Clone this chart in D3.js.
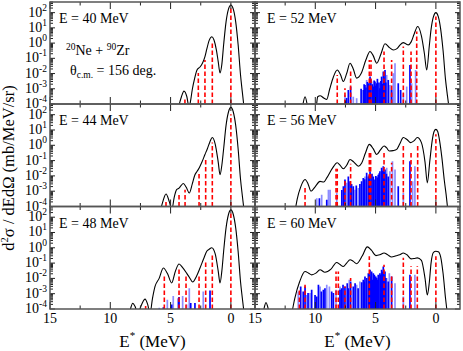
<!DOCTYPE html>
<html>
<head>
<meta charset="utf-8">
<script src="https://cdn.jsdelivr.net/npm/d3@7"></script>
<style>
body { margin: 0; background: #fff; }
svg { display: block; }
text { font-family: 'Liberation Serif', 'DejaVu Serif', serif; }
</style>
</head>
<body>
<svg id="chart" width="463" height="351" font-family="Liberation Serif, DejaVu Serif, serif"></svg>
<script>
// ---- data: [E* (MeV), d2sigma/dEdOmega (mb/MeV/sr)] ----
var beamEnergies = [40, 44, 48, 52, 56, 60];

var curve40 = [[-1.1,5e-5],[-0.95,6e-4],[-0.8,8e-3],[-0.6,0.8],[-0.4,25],[-0.2,170],[0,320],[0.2,170],[0.4,25],[0.6,0.8],[0.75,0.04],[0.9,0.011],[1.05,0.06],[1.2,0.35],[1.4,1.6],[1.57,2.6],[1.8,1.5],[2.0,0.4],[2.15,0.13],[2.35,0.05],[2.56,0.027],[2.81,0.017],[3.0,5e-3],[3.2,9e-4],[3.35,1.5e-4],[3.47,6e-5],[3.65,3e-4],[3.89,7e-4],[4.1,3e-4],[4.3,8e-5],[4.5,1e-5]];
var red40 = [[3.81,2.9e-4],[2.7,1.1e-2],[2.15,7.9e-2],[1.54,1.2],[0,240]];

var curve44 = [[-1.1,5e-5],[-0.95,5e-4],[-0.8,6e-3],[-0.6,0.6],[-0.4,20],[-0.2,150],[0,300],[0.2,150],[0.4,20],[0.6,0.6],[0.75,0.05],[0.9,0.012],[1.05,0.08],[1.3,1.2],[1.54,3.2],[1.75,1.6],[1.95,0.6],[2.15,0.25],[2.4,0.08],[2.62,0.034],[2.8,0.02],[2.98,0.012],[3.2,3e-3],[3.45,7.6e-4],[3.7,1.8e-3],[3.95,3.2e-3],[4.15,2.2e-3],[4.3,1.6e-3],[4.5,1.26e-3],[4.7,4e-4],[4.9,6e-5],[5.1,2e-4],[5.38,6.6e-4],[5.65,2e-4],[5.88,4e-5]];
var red44 = [[5.38,2.8e-4],[4.3,6.9e-4],[3.8,1.26e-3],[2.64,1.7e-2],[2.09,0.15],[1.54,1.5],[0,107]];

var curve48 = [[-1.1,5e-5],[-0.95,5e-4],[-0.8,6e-3],[-0.6,0.6],[-0.4,20],[-0.2,150],[0,300],[0.2,150],[0.4,20],[0.6,0.6],[0.75,0.03],[0.9,5e-3],[1.05,0.03],[1.3,0.4],[1.59,1.0],[1.8,0.8],[2.0,0.6],[2.25,0.2],[2.56,0.048],[2.85,0.014],[3.17,5.8e-3],[3.45,0.012],[3.67,0.022],[4.0,0.05],[4.3,0.087],[4.6,0.03],[4.91,5e-3],[5.25,0.02],[5.6,0.048],[5.95,0.01],[6.29,3e-3],[6.5,5e-4],[6.71,5e-5],[6.9,2e-4],[7.12,4.4e-4],[7.4,2e-4],[7.73,5e-5],[7.95,1.5e-4],[8.14,2.4e-4],[8.3,1.2e-4],[8.42,5e-5]];
var red48 = [[7.07,1.6e-4],[5.52,1.7e-2],[4.3,4.1e-2],[3.72,1.5e-2],[2.64,1.5e-2],[2.09,0.15],[1.54,0.31],[0,200]];
var blueDark48 = [[5.6,1.3e-4],[4.91,2e-4],[4.35,5e-4],[4.3,6e-4],[3.33,2.5e-4],[2.98,2.5e-4],[1.73,1.6e-3]];
var blueLight48 = [[5.94,1.2e-4],[5.27,4e-4],[4.78,7e-4],[4.0,7e-4],[3.67,2e-4],[3.45,2.3e-3],[2.29,1.4e-3]];

var curve52 = [[-1.1,5e-5],[-0.95,4e-4],[-0.8,4e-3],[-0.6,0.3],[-0.4,8],[-0.2,55],[0,100],[0.2,55],[0.4,8],[0.55,0.6],[0.76,0.017],[0.95,0.2],[1.2,3],[1.51,12.3],[1.8,4],[2.05,1.2],[2.29,0.76],[2.5,0.9],[2.7,1.07],[2.95,0.8],[3.2,0.45],[3.53,0.35],[3.85,0.5],[4.22,0.9],[4.55,0.2],[4.91,0.048],[5.2,0.15],[5.46,0.28],[5.8,0.08],[6.2,0.01],[6.57,5e-3],[6.85,0.02],[7.12,0.048],[7.4,0.01],[7.68,3e-3],[7.9,0.008],[8.18,0.017],[8.5,6e-3],[8.8,1e-3],[9.05,2e-4],[9.3,2.5e-4],[9.6,3.5e-4],[9.8,3e-4],[9.94,5e-5],[10.3,1e-5],[10.6,5e-5],[10.85,3e-4],[11.1,5e-5],[11.4,1e-5]];
var red52 = [[8.18,8.1e-3],[7.54,1.1e-3],[7.07,1.7e-2],[5.52,7.9e-2],[5.38,7.9e-2],[4.3,0.28],[3.67,7.9e-2],[2.7,0.59],[2.06,0.28],[1.59,5.8],[0,55]];
var blueDark52 = [[7.4,2.5e-4],[7.26,8.3e-4],[7.07,1.4e-3],[6.2,1.0e-3],[6.02,8.3e-4],[5.95,2.0e-3],[5.88,1.8e-3],[5.8,1.2e-3],[5.68,2.8e-3],[5.6,2.3e-3],[5.52,1.6e-3],[5.46,6.3e-3],[5.4,4.0e-3],[5.27,2.0e-3],[5.19,1.4e-3],[5.12,3.5e-3],[5.05,3.0e-3],[4.98,1.6e-3],[4.91,2.3e-3],[4.85,4.5e-3],[4.72,2.6e-3],[4.64,1.1e-3],[4.56,3.2e-3],[4.5,6.3e-3],[4.44,2.1e-3],[4.36,1.35e-2],[4.3,5.5e-3],[4.22,1.7e-2],[4.15,2.6e-3],[3.95,3.8e-3],[3.67,8.3e-4],[3.12,2.3e-3],[2.92,8.3e-4],[2.15,3.7e-2]];
var blueLight52 = [[7.54,3.9e-4],[6.85,3.0e-4],[6.57,2.4e-4],[5.74,3.8e-3],[5.33,3.0e-3],[4.78,8.3e-4],[4.08,8.1e-3],[3.81,1.8e-3],[3.53,1.05e-2],[3.39,4.8e-2],[2.7,5e-4],[2.42,1.4e-3],[2.01,2.3e-3],[1.68,1.7e-2]];

var curve56 = [[-1.0,5e-5],[-0.85,6e-4],[-0.7,5e-3],[-0.5,0.15],[-0.3,2.2],[-0.15,8],[0,11],[0.15,8],[0.3,2.2],[0.5,0.1],[0.71,3.5e-3],[0.9,0.08],[1.2,1.5],[1.54,3.2],[1.8,2.0],[2.09,1.5],[2.4,2.4],[2.7,3.2],[3.0,1.2],[3.25,0.54],[3.55,0.45],[3.86,0.42],[4.1,0.7],[4.3,0.9],[4.6,0.5],[4.91,0.25],[5.2,0.6],[5.52,1.15],[5.85,0.3],[6.15,0.07],[6.43,0.043],[6.8,0.08],[7.12,0.117],[7.4,0.05],[7.68,0.029],[7.95,0.05],[8.18,0.072],[8.6,0.03],[9.05,7.4e-3],[9.3,4e-3],[9.61,4.4e-3],[10.0,2e-3],[10.36,1e-3],[10.6,3e-3],[10.85,5.8e-3],[11.2,2e-3],[11.5,3e-4],[11.68,5e-5]];
var red56 = [[10.85,1.9e-3],[8.28,2.9e-2],[8.18,2.9e-2],[7.54,5.8e-3],[7.07,6.3e-2],[5.52,0.32],[5.41,0.32],[4.3,0.35],[3.67,0.072],[2.7,1.15],[2.06,0.32],[1.51,1.15],[0,5.2]];
var blueDark56 = [[9.66,3.5e-4],[9.05,2.8e-4],[7.8,1.2e-3],[7.67,2.1e-3],[7.54,5.8e-3],[7.26,9.3e-3],[7.12,4.4e-3],[7.0,3.0e-3],[6.85,2.1e-3],[6.6,2.4e-3],[6.3,3.0e-3],[6.16,4.4e-3],[6.02,7.4e-3],[5.9,6.0e-3],[5.74,1.6e-2],[5.6,9.3e-3],[5.53,1.1e-2],[5.46,2.0e-2],[5.3,1.4e-2],[5.19,9.3e-3],[5.05,5.8e-3],[4.98,1.0e-2],[4.85,8e-3],[4.78,1.2e-2],[4.7,1.5e-2],[4.64,2.0e-2],[4.5,3.4e-2],[4.42,2.2e-2],[4.36,4.3e-2],[4.3,1.8e-2],[4.22,2.6e-2],[4.1,1.4e-2],[3.95,9.3e-3],[3.12,2.1e-3],[2.15,9.1e-2]];
var blueLight56 = [[9.88,3.5e-4],[9.47,5.9e-4],[8.91,1.26e-3],[8.77,1.26e-3],[8.22,7.6e-4],[7.4,3.5e-3],[6.99,2.7e-3],[6.71,1.26e-3],[6.43,1.6e-3],[5.88,9.3e-3],[5.33,1.2e-2],[4.91,9.3e-3],[4.08,3.4e-2],[3.81,2.0e-2],[3.6,9.1e-2],[3.39,2.6e-2],[2.7,7.6e-4],[1.93,4.4e-3],[1.74,4.3e-2]];

var curve60 = [[-0.95,5e-5],[-0.8,5e-4],[-0.6,0.02],[-0.4,0.25],[-0.2,0.55],[0,0.59],[0.2,0.5],[0.4,0.1],[0.55,5e-3],[0.71,8.3e-4],[0.9,0.01],[1.2,0.15],[1.54,0.22],[1.8,0.2],[2.06,0.19],[2.4,0.35],[2.7,0.46],[3.0,0.35],[3.3,0.3],[3.67,0.25],[4.0,0.35],[4.3,0.46],[4.65,0.35],[4.97,0.31],[5.35,0.7],[5.69,1.15],[6.1,0.3],[6.57,0.091],[6.85,0.13],[7.12,0.166],[7.4,0.1],[7.68,0.06],[7.95,0.08],[8.23,0.11],[8.7,0.04],[9.2,0.025],[9.61,0.037],[9.95,0.022],[10.3,0.017],[10.55,0.022],[10.85,0.028],[11.3,0.006],[11.7,5e-4],[11.96,5e-5],[12.9,1e-6],[13.8,5e-5],[14.09,2.6e-4],[14.35,5e-5],[14.7,1e-5]];
var red60 = [[11.32,1.8e-3],[10.85,3.8e-3],[8.28,2.8e-2],[8.09,2.8e-2],[7.54,3e-3],[7.07,1.05e-2],[5.52,0.28],[4.3,0.079],[3.67,0.017],[2.7,0.22],[2.06,0.063],[1.54,0.063],[0,0.28]];
var blueDark60 = [[11.21,3.0e-3],[11.0,1.4e-3],[10.85,3.0e-3],[10.6,1.1e-3],[10.3,1.8e-3],[10.02,8.3e-4],[9.88,6.5e-4],[9.74,3.8e-3],[9.5,1.4e-3],[9.33,1.8e-3],[9.2,2.3e-3],[8.64,1.4e-3],[8.5,1.1e-3],[7.95,1.8e-3],[7.81,2.3e-3],[7.7,3.8e-3],[7.54,3.0e-3],[7.35,4.9e-3],[7.25,2.3e-3],[7.07,6.3e-3],[6.85,3.0e-3],[6.7,4.9e-3],[6.45,2.3e-3],[6.15,5.5e-3],[6.02,8.1e-3],[5.95,6.3e-3],[5.88,1.35e-2],[5.74,1.05e-2],[5.6,2.2e-2],[5.53,1.7e-2],[5.46,3.7e-2],[5.4,1.35e-2],[5.33,2.8e-2],[5.25,8.1e-3],[5.19,2.2e-2],[5.1,1.7e-2],[4.98,1.35e-2],[4.91,1.05e-2],[4.85,8.1e-3],[4.78,1.7e-2],[4.64,2.2e-2],[4.57,1.7e-2],[4.5,3.7e-2],[4.43,2.8e-2],[4.36,6.0e-2],[4.3,1.7e-2],[4.22,2.8e-2],[4.15,1.05e-2],[3.95,6.3e-3],[3.67,1.35e-2],[2.15,1.7e-2]];
var blueLight60 = [[11.41,1.4e-3],[10.71,8.3e-4],[10.44,1.1e-3],[9.6,3.0e-3],[9.05,3.8e-3],[8.83,3.0e-3],[8.28,1.8e-3],[7.95,3.0e-3],[7.18,8.1e-3],[6.57,3.8e-3],[6.3,6.3e-3],[5.05,1.35e-2],[4.08,1.05e-2],[3.86,2.2e-2],[3.39,4.9e-3],[2.7,6.5e-4],[1.74,1.7e-2]];

var yDecades = [-4, -3, -2, -1, 0, 1, 2];
var xMajor = [15, 10, 5, 0];
var xMinor = [12.5, 7.5, 2.5];

// ---- layout ----
var colX = [[50, 255], [255, 460]];
var rowY = [[2, 104], [104, 206.5], [206.5, 309]];
var yTop = 5e2, yBottom = 1e-4;
var serif = "Liberation Serif, DejaVu Serif, serif";

var panels = [
  {e: beamEnergies[0], col: 0, row: 0, curve: curve40, red: red40, dark: [], light: []},
  {e: beamEnergies[1], col: 0, row: 1, curve: curve44, red: red44, dark: [], light: []},
  {e: beamEnergies[2], col: 0, row: 2, curve: curve48, red: red48, dark: blueDark48, light: blueLight48},
  {e: beamEnergies[3], col: 1, row: 0, curve: curve52, red: red52, dark: blueDark52, light: blueLight52},
  {e: beamEnergies[4], col: 1, row: 1, curve: curve56, red: red56, dark: blueDark56, light: blueLight56},
  {e: beamEnergies[5], col: 1, row: 2, curve: curve60, red: red60, dark: blueDark60, light: blueLight60}
];

var svg = d3.select("#chart");
var defs = svg.append("defs");

panels.forEach(function(p, i) {
  var x0 = colX[p.col][0], x1 = colX[p.col][1];
  var y0 = rowY[p.row][0], y1 = rowY[p.row][1];

  var x = d3.scaleLinear().domain([15, -2]).range([x0, x1]);
  var y = d3.scaleLog().domain([yBottom, yTop]).range([y1, y0]);

  defs.append("clipPath").attr("id", "clip" + i)
    .append("rect").attr("x", x0).attr("y", y0).attr("width", x1 - x0).attr("height", y1 - y0);

  var plot = svg.append("g").attr("clip-path", "url(#clip" + i + ")");

  // blue lines (light first, then dark)
  plot.selectAll(".bl").data(p.light).enter().append("line")
    .attr("x1", function(d) { return x(d[0]); })
    .attr("x2", function(d) { return x(d[0]); })
    .attr("y1", y1)
    .attr("y2", function(d) { return y(d[1]); })
    .attr("stroke", "#0000ff").attr("stroke-opacity", 0.45).attr("stroke-width", 1.7);

  plot.selectAll(".bd").data(p.dark).enter().append("line")
    .attr("x1", function(d) { return x(d[0]); })
    .attr("x2", function(d) { return x(d[0]); })
    .attr("y1", y1)
    .attr("y2", function(d) { return y(d[1]); })
    .attr("stroke", "#0000ff").attr("stroke-width", 1.7);

  // red dashed levels
  plot.selectAll(".rd").data(p.red).enter().append("line")
    .attr("x1", function(d) { return x(d[0]); })
    .attr("x2", function(d) { return x(d[0]); })
    .attr("y1", y1)
    .attr("y2", function(d) { return y(d[1]); })
    .attr("stroke", "#ff0000").attr("stroke-width", 1.6)
    .attr("stroke-dasharray", "4.5,2.5");

  // black folded curve
  var pts = p.curve.slice().sort(function(a, b) { return b[0] - a[0]; });
  var line = d3.line()
    .x(function(d) { return x(d[0]); })
    .y(function(d) { return y(d[1]); })
    .curve(d3.curveMonotoneX);
  plot.append("path").datum(pts).attr("d", line)
    .attr("fill", "none").attr("stroke", "#000").attr("stroke-width", 1.1);

  // ticks, inward on all four sides
  var tk = svg.append("g").attr("stroke", "#222").attr("stroke-width", 1);
  var yt = [];
  yDecades.forEach(function(k) {
    yt.push({v: Math.pow(10, k), len: 5});
    for (var m = 2; m <= 9; m++) {
      var v = m * Math.pow(10, k);
      if (v <= yTop) yt.push({v: v, len: 3});
    }
  });
  yt.forEach(function(t) {
    var yy = y(t.v);
    tk.append("line").attr("x1", x0).attr("x2", x0 + t.len).attr("y1", yy).attr("y2", yy);
    tk.append("line").attr("x1", x1).attr("x2", x1 - t.len).attr("y1", yy).attr("y2", yy);
  });
  var xt = xMajor.map(function(v) { return {v: v, len: 7}; })
    .concat(xMinor.map(function(v) { return {v: v, len: 3.5}; }));
  xt.forEach(function(t) {
    var xx = x(t.v);
    tk.append("line").attr("x1", xx).attr("x2", xx).attr("y1", y1).attr("y2", y1 - t.len);
    tk.append("line").attr("x1", xx).attr("x2", xx).attr("y1", y0).attr("y2", y0 + t.len);
  });

  // frame
  svg.append("rect").attr("x", x0).attr("y", y0).attr("width", x1 - x0).attr("height", y1 - y0)
    .attr("fill", "none").attr("stroke", "#555").attr("stroke-width", 1.5);

  // panel label
  svg.append("text").attr("x", x0 + (p.col === 0 ? 9 : 12)).attr("y", y0 + 21)
    .attr("font-family", serif).attr("font-size", 14).text("E = " + p.e + " MeV");

  // y tick labels, left column only
  if (p.col === 0) {
    yDecades.forEach(function(k) {
      var t = svg.append("text").attr("x", 47).attr("y", y(Math.pow(10, k)) + 4)
        .attr("text-anchor", "end").attr("font-family", serif).attr("font-size", 14);
      t.append("tspan").text("10");
      t.append("tspan").attr("font-size", 9.5).attr("dy", -6).text(k);
    });
  }

  // x tick labels + title on bottom row
  if (p.row === 2) {
    xMajor.forEach(function(v) {
      svg.append("text").attr("x", x(v)).attr("y", 323)
        .attr("text-anchor", "middle").attr("font-family", serif).attr("font-size", 14).text(v);
    });
    var xt2 = svg.append("text").attr("x", (x0 + x1) / 2).attr("y", 347)
      .attr("text-anchor", "middle").attr("font-family", serif).attr("font-size", 17);
    xt2.append("tspan").text("E");
    xt2.append("tspan").attr("font-size", 11).attr("dy", -8).text("*");
    xt2.append("tspan").attr("dy", 8).text(" (MeV)");
  }
});

// reaction and angle annotation
var r = svg.append("text").attr("x", 66).attr("y", 55).attr("font-family", serif).attr("font-size", 14);
r.append("tspan").attr("font-size", 9.5).attr("dy", -5).text("20");
r.append("tspan").attr("dy", 5).text("Ne + ");
r.append("tspan").attr("font-size", 9.5).attr("dy", -5).text("90");
r.append("tspan").attr("dy", 5).text("Zr");

var a = svg.append("text").attr("x", 70).attr("y", 75).attr("font-family", serif).attr("font-size", 14);
a.append("tspan").text("θ");
a.append("tspan").attr("font-size", 9.5).attr("dy", 3).text("c.m.");
a.append("tspan").attr("dy", -3).text(" = 156 deg.");

// y axis title
var yl = svg.append("text").attr("transform", "translate(14,168) rotate(-90)")
  .attr("text-anchor", "middle").attr("font-family", serif).attr("font-size", 16.5);
yl.append("tspan").text("d");
yl.append("tspan").attr("font-size", 10.5).attr("dy", -6).text("2");
yl.append("tspan").attr("dy", 6).text("σ / dEdΩ (mb/MeV/sr)");
</script>
</body>
</html>
